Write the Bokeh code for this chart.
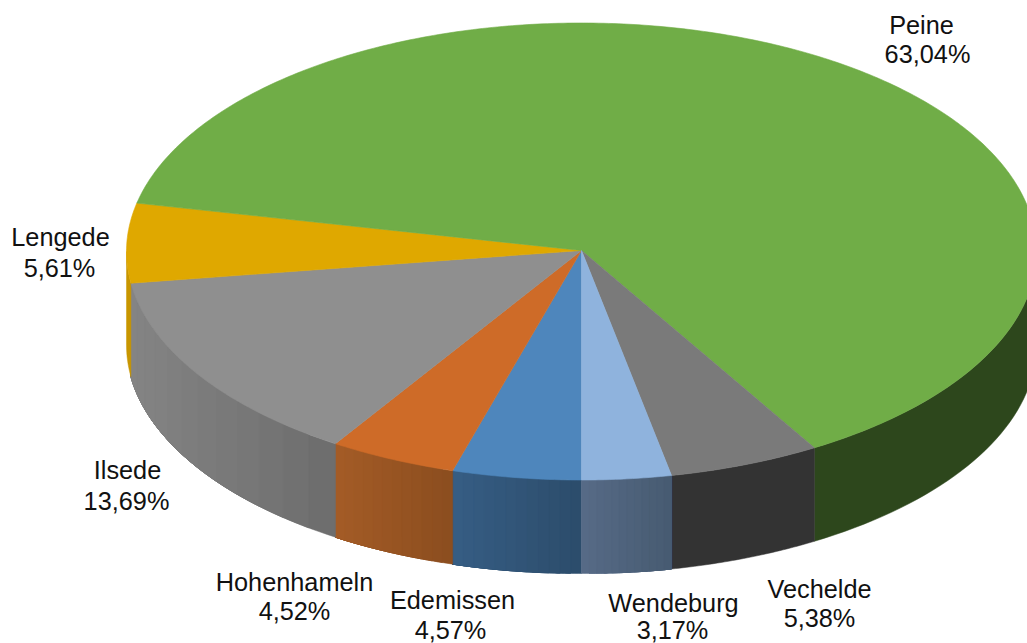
import numpy as np
from bokeh.plotting import figure
from bokeh.models import Range1d
from bokeh.core.properties import value
from bokeh.embed import file_html
from bokeh.resources import INLINE

# Data, clockwise from the front of the pie
names = ["Edemissen", "Hohenhameln", "Ilsede", "Lengede", "Peine", "Vechelde", "Wendeburg"]
shares = [4.57, 4.52, 13.69, 5.61, 63.04, 5.38, 3.17]
share_labels = ["4,57%", "4,52%", "13,69%", "5,61%", "63,04%", "5,38%", "3,17%"]

# Colours
top_colors = ["#4E86BC", "#CE6B28", "#8F8F8F", "#DFA800", "#70AD47", "#7A7A7A", "#8FB3DD"]
side_left = ["#375E85", "#A55C27", "#858585", "#C89600", "#2D471C", "#333333", "#566A86"]
side_right = ["#2C4D6C", "#8C4E1F", "#6E6E6E", "#C89600", "#2D471C", "#333333", "#465A70"]

# Geometry in the picture's pixels
CX, CY, RX, RY, DEPTH = 581.0, 251.0, 455.0, 228.5, 93.5
APEX_Y = 250.0
name_x = [452, 294, 127, 60, 921, 819, 673]
name_y = [608, 590, 478, 245, 33, 597, 611]
pct_x = [450, 294, 126, 59, 927, 819, 672]
pct_y = [638, 619, 509, 276, 62, 626, 638]
TEXT_SHIFT = -9


def rim(t):
    t = np.asarray(t)
    return CX - RX * np.sin(t), CY + RY * np.cos(t)


def mix(a, b, f):
    ca = [int(a[i:i + 2], 16) for i in (1, 3, 5)]
    cb = [int(b[i:i + 2], 16) for i in (1, 3, 5)]
    return "#%02x%02x%02x" % tuple(round(x + (y - x) * f) for x, y in zip(ca, cb))


p = figure(width=1027, height=643, output_backend="svg", toolbar_location=None,
           x_range=Range1d(0, 1027), y_range=Range1d(643, 0),
           min_border=0, outline_line_color=None, background_fill_color="white")
p.axis.visible = False
p.grid.visible = False

edges = np.radians(np.cumsum([0] + shares) / sum(shares) * 360)

# Side wall, cut into strips that overlap so the shading has no seams
xs, ys, cols = [], [], []
for i in range(len(shares)):
    a, b = edges[i], edges[i + 1]
    ranges = []
    if a < np.pi / 2:
        ranges.append((a, min(b, np.pi / 2)))
    if b > 1.5 * np.pi:
        ranges.append((max(a, 1.5 * np.pi), b))
    for lo, hi in ranges:
        n = 1 if side_left[i] == side_right[i] else 12
        steps = np.linspace(lo, hi, n + 1)
        xlo, xhi = sorted(rim([lo, hi])[0])
        # painted from the right end of the wall towards the left
        for k in range(n):
            tt = np.linspace(steps[k], hi, 40)
            if i == len(shares) - 1:
                tt = np.linspace(lo, steps[n - k], 40)
            x, y = rim(tt)
            xs.append(list(x) + list(x[::-1]))
            ys.append(list(y) + list((y + DEPTH)[::-1]))
            xm = x[0] if i < len(shares) - 1 else x[-1]
            f = (xm - xlo) / max(xhi - xlo, 1)
            cols.append(mix(side_left[i], side_right[i], f))
p.patches(xs, ys, fill_color=cols, line_color=cols, line_width=0.5)

# Top surface
tx, ty = [], []
for i in range(len(shares)):
    tt = np.linspace(edges[i], edges[i + 1], max(3, int((edges[i + 1] - edges[i]) * 90)))
    x, y = rim(tt)
    tx.append([CX] + list(x))
    ty.append([APEX_Y] + list(y))
p.patches(tx, ty, fill_color=top_colors, line_color=top_colors, line_width=0.6)

# Labels
for lx, ly, labels in ((name_x, name_y, names), (pct_x, pct_y, share_labels)):
    p.text(lx, ly, text=labels, text_align="center", text_baseline="alphabetic",
           y_offset=TEXT_SHIFT, text_font=value("Liberation Sans"),
           text_font_size="25.3px", text_color="#111111")

open("out.html", "w").write(file_html(p, INLINE))
